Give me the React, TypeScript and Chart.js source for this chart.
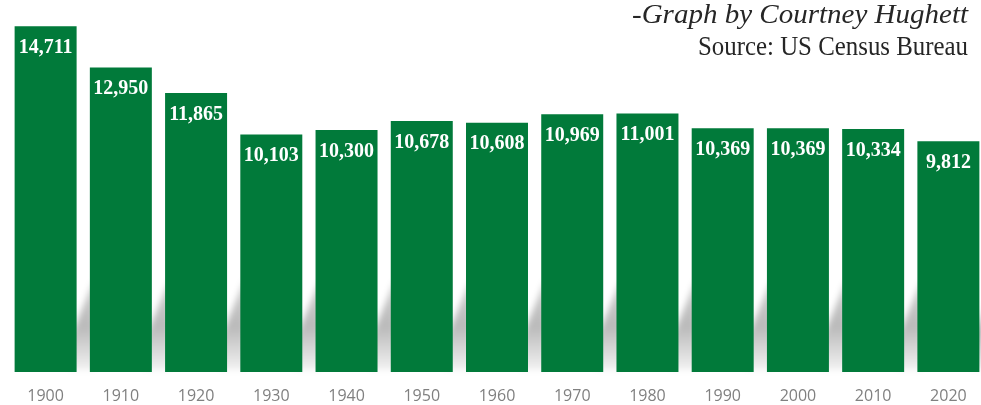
import React, { useEffect, useRef } from "react";
import { Chart, registerables } from "chart.js";

Chart.register(...registerables);

const years: string[] = ["1900", "1910", "1920", "1930", "1940", "1950", "1960", "1970", "1980", "1990", "2000", "2010", "2020"];
const population: number[] = [14711, 12950, 11865, 10103, 10300, 10678, 10608, 10969, 11001, 10369, 10369, 10334, 9812];
const creditLine = "-Graph by Courtney Hughett";
const sourceLine = "Source: US Census Bureau";

const BAR_GREEN = "#017a3a";
const W = 995;
const VIEW_H = 405;
const CANVAS_H = 422;

const shadowPlugin = {
  id: "barShadow",
  beforeDatasetsDraw(chart: any) {
    const ctx = chart.ctx as CanvasRenderingContext2D;
    const meta = chart.getDatasetMeta(0);
    ctx.save();
    ctx.filter = "blur(3px)";
    meta.data.forEach((el: any) => {
      const xr = el.x + el.width / 2;
      const base = el.base;
      const g = ctx.createLinearGradient(0, base - 100, 0, base);
      g.addColorStop(0, "rgba(0,0,0,0)");
      g.addColorStop(0.15, "rgba(0,0,0,0.2)");
      g.addColorStop(0.55, "rgba(0,0,0,0.27)");
      g.addColorStop(1, "rgba(0,0,0,0.04)");
      ctx.fillStyle = g;
      ctx.beginPath();
      ctx.moveTo(xr - 8, base - 2);
      ctx.lineTo(xr - 8, base - 30);
      ctx.lineTo(xr + 18, base - 94);
      ctx.lineTo(xr + 18, base - 2);
      ctx.closePath();
      ctx.fill();
    });
    ctx.restore();
  },
};

function drawFitted(ctx: CanvasRenderingContext2D, text: string, right: number, baseline: number, width: number) {
  const m = ctx.measureText(text).width;
  const s = width / m;
  ctx.save();
  ctx.translate(right, baseline);
  ctx.scale(s, 1);
  ctx.textAlign = "right";
  ctx.fillText(text, 0, 0);
  ctx.restore();
}

const labelPlugin = {
  id: "barLabels",
  afterDatasetsDraw(chart: any) {
    const ctx = chart.ctx as CanvasRenderingContext2D;
    const meta = chart.getDatasetMeta(0);
    const data = chart.data.datasets[0].data as number[];
    ctx.save();
    ctx.font = 'bold 20px "Liberation Serif", "Times New Roman", serif';
    ctx.fillStyle = "#ffffff";
    ctx.textAlign = "center";
    ctx.textBaseline = "middle";
    meta.data.forEach((el: any, i: number) => {
      ctx.fillText(data[i].toLocaleString("en-US"), el.x, el.y + 21.5);
    });
    ctx.restore();
  },
  afterDraw(chart: any) {
    const ctx = chart.ctx as CanvasRenderingContext2D;
    ctx.save();
    ctx.fillStyle = "#262626";
    ctx.textBaseline = "alphabetic";
    ctx.font = 'italic 27px "Liberation Serif", "Times New Roman", serif';
    drawFitted(ctx, creditLine, 968, 22.5, 336);
    ctx.font = '27px "Liberation Serif", "Times New Roman", serif';
    drawFitted(ctx, sourceLine, 968, 55, 270);
    ctx.restore();
  },
};

export default function App() {
  const canvasRef = useRef<HTMLCanvasElement | null>(null);

  useEffect(() => {
    document.body.style.margin = "0";
    document.body.style.overflow = "hidden";
    const canvas = canvasRef.current;
    if (!canvas) return;
    const chart = new Chart(canvas, {
      type: "bar",
      data: {
        labels: years,
        datasets: [
          {
            data: population,
            backgroundColor: BAR_GREEN,
            borderWidth: 0,
            categoryPercentage: 1,
            barPercentage: 0.824,
          },
        ],
      },
      options: {
        animation: false,
        responsive: false,
        devicePixelRatio: 1,
        layout: { padding: { top: 19.4, bottom: 1, left: 8, right: 9 } },
        plugins: {
          legend: { display: false },
          tooltip: { enabled: false },
          title: { display: false },
        },
        scales: {
          x: {
            grid: { display: false, drawTicks: false },
            border: { display: false },
            ticks: {
              color: "#808080",
              padding: 16.5,
              font: { family: '"Open Sans", sans-serif', size: 16, lineHeight: 1 },
            },
          },
          y: {
            display: false,
            min: 0,
            max: 15000,
          },
        },
      },
      plugins: [shadowPlugin, labelPlugin],
    });
    return () => chart.destroy();
  }, []);

  return (
    <div style={{ position: "relative", width: W + "px", height: VIEW_H + "px", overflow: "hidden" }}>
      <canvas ref={canvasRef} width={W} height={CANVAS_H} style={{ display: "block", width: W + "px", height: CANVAS_H + "px" }} />
    </div>
  );
}
